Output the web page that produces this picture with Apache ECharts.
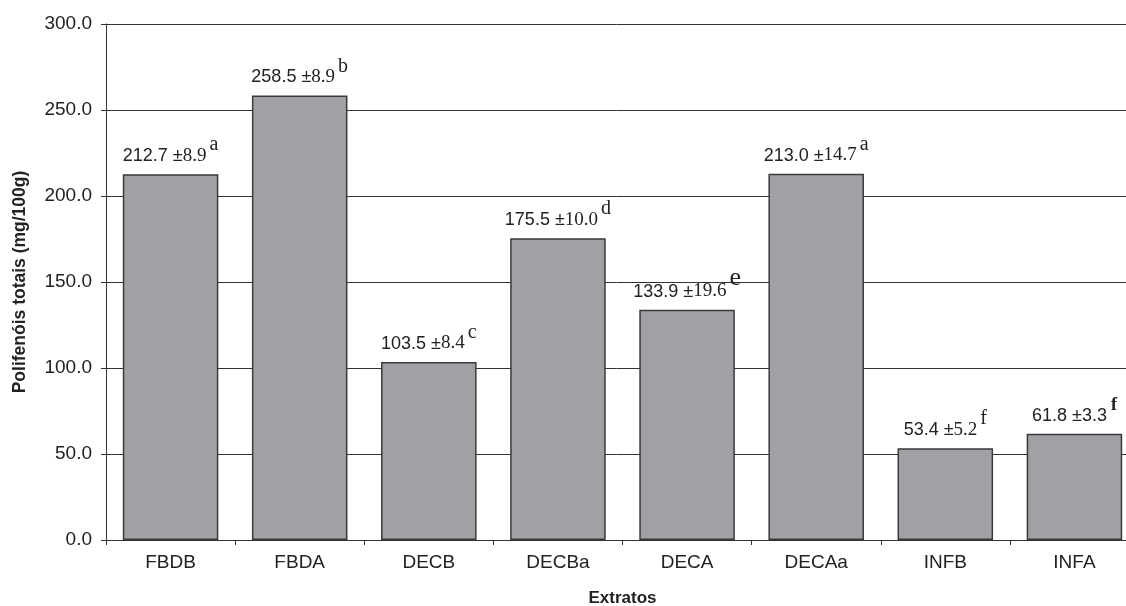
<!DOCTYPE html>
<html>
<head>
<meta charset="utf-8">
<script src="https://cdn.jsdelivr.net/npm/echarts@6/dist/echarts.min.js"></script>
<style>
html, body { margin: 0; padding: 0; background: #fff; }
#chart { width: 1126px; height: 606px; }
</style>
</head>
<body>
<div id="chart"></div>
<script>
var categories = ['FBDB', 'FBDA', 'DECB', 'DECBa', 'DECA', 'DECAa', 'INFB', 'INFA'];
var values = [212.7, 258.5, 103.5, 175.5, 133.9, 213.0, 53.4, 61.8];
var deviations = ['8.9', '8.9', '8.4', '10.0', '19.6', '14.7', '5.2', '3.3'];
var letters = ['a', 'b', 'c', 'd', 'e', 'a', 'f', 'f'];
var yTicks = [0, 300, 50];

// DECA letter is drawn bigger, INFA letter is bold and its deviation is sans
var supStyle = function (i) {
	if (i === 4) return 'supBig';
	if (i === 7) return 'supBold';
	return 'sup';
};

var option = {
	animation: false,
	backgroundColor: '#fff',
	grid: {
		left: 106,
		top: 24,
		width: 1033,
		height: 516,
		containLabel: false,
		outerBoundsMode: 'none'
	},
	xAxis: {
		type: 'category',
		data: categories,
		name: 'Extratos',
		nameLocation: 'middle',
		nameGap: 50,
		nameTextStyle: { fontFamily: 'Liberation Sans', fontSize: 17, fontWeight: 'bold', color: '#222' },
		axisLine: { lineStyle: { color: '#333', width: 1 } },
		axisTick: { show: true, length: 5, alignWithLabel: false, lineStyle: { color: '#333' } },
		axisLabel: { fontFamily: 'Liberation Sans', fontSize: 19, color: '#222', margin: 13 },
		splitLine: { show: false }
	},
	yAxis: {
		type: 'value',
		min: yTicks[0],
		max: yTicks[1],
		interval: yTicks[2],
		name: 'Polifenóis totais (mg/100g)',
		nameLocation: 'middle',
		nameGap: 77,
		nameTextStyle: { fontFamily: 'Liberation Sans', fontSize: 17.5, fontWeight: 'bold', color: '#222' },
		axisLine: { show: true, lineStyle: { color: '#333', width: 1 } },
		axisTick: { show: true, length: 5, lineStyle: { color: '#333' } },
		axisLabel: {
			fontFamily: 'Liberation Sans', fontSize: 19, color: '#222', margin: 14,
			formatter: function (v) { return v.toFixed(1); }
		},
		splitLine: { show: true, lineStyle: { color: '#333', width: 1 } }
	},
	series: [{
		type: 'bar',
		data: values,
		barWidth: '74%',
		itemStyle: { color: '#a0a1a5', borderColor: '#3a3a3a', borderWidth: 1.5 },
		label: {
			show: true,
			position: 'top',
			distance: 9,
			formatter: function (p) {
				var i = p.dataIndex;
				var dev = i === 7 ? 'n' : 's';
				return '{n|' + values[i].toFixed(1) + ' ±}{' + dev + '|' + deviations[i] + '}{' + supStyle(i) + '|' + letters[i] + '}';
			},
			rich: {
				n: { fontFamily: 'Liberation Sans', fontSize: 18, color: '#222', verticalAlign: 'bottom', lineHeight: 20 },
				s: { fontFamily: 'Liberation Serif', fontSize: 19, color: '#222', verticalAlign: 'bottom', lineHeight: 20 },
				sup: { fontFamily: 'Liberation Serif', fontSize: 20, color: '#222', verticalAlign: 'bottom', lineHeight: 20, padding: [0, 0, 10, 3] },
				supBig: { fontFamily: 'Liberation Serif', fontSize: 26, color: '#222', verticalAlign: 'bottom', lineHeight: 24, padding: [0, 0, 10, 3] },
				supBold: { fontFamily: 'Liberation Serif', fontSize: 18, fontWeight: 'bold', color: '#222', verticalAlign: 'bottom', lineHeight: 20, padding: [0, 0, 10, 4] }
			}
		}
	}]
};

var myChart = echarts.init(document.getElementById('chart'));
myChart.setOption(option);
</script>
</body>
</html>
